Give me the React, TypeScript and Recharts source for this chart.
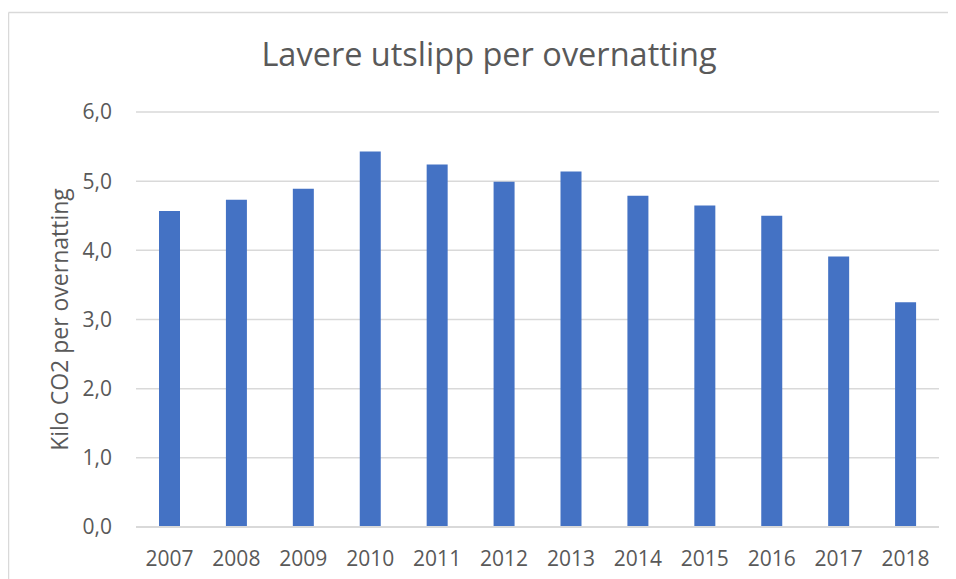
import React from 'react';
import { BarChart, Bar, XAxis, YAxis, CartesianGrid, Label } from 'recharts';

const years = ['2007', '2008', '2009', '2010', '2011', '2012', '2013', '2014', '2015', '2016', '2017', '2018'];
const kiloCo2 = [4.57, 4.73, 4.89, 5.43, 5.24, 4.99, 5.14, 4.79, 4.65, 4.5, 3.91, 3.25];
const yTicks = [0, 1, 2, 3, 4, 5, 6];

const title = 'Lavere utslipp per overnatting';
const yLabel = 'Kilo CO2 per overnatting';

const data = years.map((year, i) => ({ year, value: kiloCo2[i] }));

const FONT = '"Open Sans", "Liberation Sans", sans-serif';
const TEXT = '#595959';
const GRID = '#d9d9d9';

export default function App() {
  return (
    <div style={{ position: 'relative', width: 948, height: 571, fontFamily: FONT, overflow: 'hidden' }}>
      <svg width={948} height={571} style={{ position: 'absolute', left: 0, top: 0 }}>
        <line x1={0.5} y1={4.5} x2={948} y2={4.5} stroke={GRID} strokeWidth={1.5} />
        <line x1={0.5} y1={4.5} x2={0.5} y2={571} stroke={GRID} strokeWidth={1.5} />
        <text x={481} y={58} textAnchor="middle" fill={TEXT} fontSize={32.5} fontFamily={FONT}>
          {title}
        </text>
      </svg>
      <div style={{ position: 'absolute', left: 0, top: 0 }}>
        <BarChart
          width={948}
          height={571}
          data={data}
          margin={{ top: 104, right: 17, left: 0, bottom: 0 }}
          barSize={21}
        >
          <CartesianGrid vertical={false} stroke={GRID} strokeWidth={1.5} />
          <XAxis
            dataKey="year"
            height={52}
            tickLine={false}
            tickSize={8}
            tickMargin={16}
            axisLine={{ stroke: GRID, strokeWidth: 2 }}
            tick={{ fill: TEXT, fontSize: 21, fontFamily: FONT }}
            interval={0}
          />
          <YAxis
            width={128}
            domain={[0, 6]}
            ticks={yTicks}
            axisLine={false}
            tickLine={false}
            tickSize={8}
            tickMargin={16}
            tick={{ fill: TEXT, fontSize: 21, fontFamily: FONT }}
            tickFormatter={(v: number) => v.toFixed(1).replace('.', ',')}
          >
            <Label
              value={yLabel}
              angle={-90}
              position="center"
              dx={-12}
              style={{ fill: TEXT, fontSize: 23, fontFamily: FONT }}
            />
          </YAxis>
          <Bar dataKey="value" fill="#4472C4" isAnimationActive={false} />
        </BarChart>
      </div>
    </div>
  );
}
